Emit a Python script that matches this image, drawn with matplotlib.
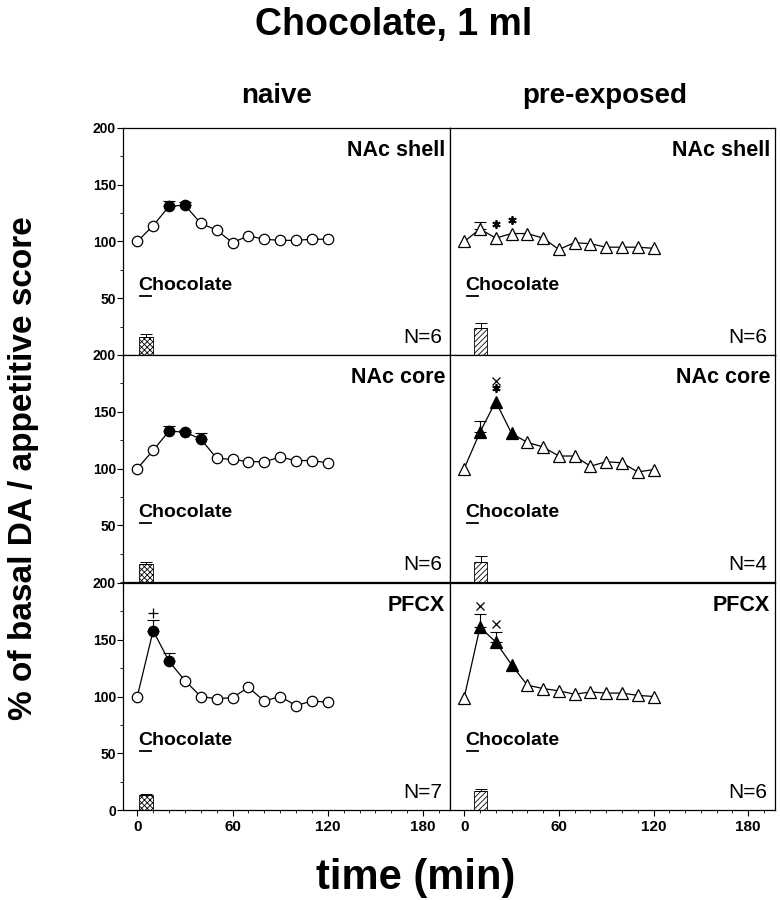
import numpy as np
import matplotlib
matplotlib.use('Agg')
import matplotlib.pyplot as plt
from matplotlib.ticker import MultipleLocator

plt.rcParams['font.family'] = ['Liberation Sans', 'DejaVu Sans']
plt.rcParams['hatch.linewidth'] = 0.6

# sampling times (min)
time_min = [0, 10, 20, 30, 40, 50, 60, 70, 80, 90, 100, 110, 120]

# naive group, % of basal DA
naive_shell = [100, 114, 131, 132, 116, 110, 99, 105, 102, 101, 101, 102, 102]
naive_shell_err = [0, 0, 5, 3, 0, 0, 0, 0, 0, 0, 0, 0, 0]
naive_shell_filled = [0, 0, 1, 1, 0, 0, 0, 0, 0, 0, 0, 0, 0]

naive_core = [100, 116, 133, 132, 126, 109, 108, 106, 106, 110, 107, 107, 105]
naive_core_err = [0, 0, 4.5, 2, 5, 0, 0, 0, 0, 0, 0, 0, 0]
naive_core_filled = [0, 0, 1, 1, 1, 0, 0, 0, 0, 0, 0, 0, 0]

naive_pfcx = [100, 158, 131, 114, 100, 98, 99, 108, 96, 100, 92, 96, 95]
naive_pfcx_err = [0, 9, 7.5, 0, 0, 0, 0, 0, 0, 0, 0, 0, 0]
naive_pfcx_filled = [0, 1, 1, 0, 0, 0, 0, 0, 0, 0, 0, 0, 0]

# pre-exposed group, % of basal DA
pre_shell = [100, 111, 103, 107, 107, 103, 93, 99, 98, 95, 95, 95, 94]
pre_shell_err = [0, 6, 0, 0, 0, 0, 0, 0, 0, 0, 0, 0, 0]
pre_shell_filled = [0, 0, 0, 0, 0, 0, 0, 0, 0, 0, 0, 0, 0]

pre_core = [100, 132, 159, 131, 123, 119, 111, 111, 102, 106, 105, 97, 99]
pre_core_err = [0, 10, 0, 0, 0, 0, 0, 0, 0, 0, 0, 0, 0]
pre_core_filled = [0, 1, 1, 1, 0, 0, 0, 0, 0, 0, 0, 0, 0]

pre_pfcx = [99, 161, 148, 128, 110, 107, 105, 102, 104, 103, 103, 101, 100]
pre_pfcx_err = [0, 12, 9, 0, 0, 0, 0, 0, 0, 0, 0, 0, 0]
pre_pfcx_filled = [0, 1, 1, 1, 0, 0, 0, 0, 0, 0, 0, 0, 0]

# appetitive score (bar) and its error
naive_score = [16, 16, 13]
naive_score_err = [2.5, 1.5, 1]
pre_score = [23.5, 18, 17]
pre_score_err = [4.5, 4.5, 1.5]

regions = ['NAc shell', 'NAc core', 'PFCX']
naive_n = ['N=6', 'N=6', 'N=7']
pre_n = ['N=6', 'N=4', 'N=6']

# significance symbols: (time, symbols stacked from bottom up)
naive_sig = [[], [], [(10, ['+'])]]
pre_sig = [[(20, ['*']), (30, ['*'])], [(20, ['*', 'x'])], [(10, ['x']), (20, ['x'])]]

choc_start, choc_end = 1.5, 8.5   # chocolate delivery marker

naive_data = [(naive_shell, naive_shell_err, naive_shell_filled),
              (naive_core, naive_core_err, naive_core_filled),
              (naive_pfcx, naive_pfcx_err, naive_pfcx_filled)]
pre_data = [(pre_shell, pre_shell_err, pre_shell_filled),
            (pre_core, pre_core_err, pre_core_filled),
            (pre_pfcx, pre_pfcx_err, pre_pfcx_filled)]

# marker styles for the significance symbols
sig_style = {'*': dict(marker=(6, 2, 0), ms=6, mew=1.3),
             'x': dict(marker='x', ms=5.5, mew=0.9),
             '+': dict(marker='+', ms=7, mew=0.9)}

W, H = 780, 900
fig = plt.figure(figsize=(W / 100, H / 100), dpi=100)

col_x = [123 / W, 450 / W]
col_w = [327 / W, 325 / W]
row_top = [128, 355, 583]
row_h = 227


def draw_panel(ax, vals, errs, filled, marker, score, score_err, bar_x, hatch,
               region, n_lbl, sigs):
    t = np.array(time_min)
    v = np.array(vals, dtype=float)
    e = np.array(errs, dtype=float)
    f = np.array(filled, dtype=bool)
    ax.plot(t, v, color='black', lw=0.9, zorder=2)
    m = e > 0
    ax.errorbar(t[m], v[m], yerr=[np.zeros(m.sum()), e[m]], fmt='none',
                ecolor='black', elinewidth=0.8, capsize=4, capthick=0.8, zorder=3)
    ms = 7.5 if marker == 'o' else 8
    ax.plot(t[~f], v[~f], marker, ls='none', mfc='white', mec='black',
            ms=ms, mew=0.9, zorder=4)
    ax.plot(t[f], v[f], marker, ls='none', mfc='black', mec='black',
            ms=ms, mew=0.9, zorder=4)
    # appetitive score bar
    ax.bar([bar_x], [score], width=8.5, color='white', edgecolor='black',
           hatch=hatch, lw=0.6, yerr=[[0], [score_err]], capsize=4,
           error_kw=dict(elinewidth=0.7, capthick=0.7), zorder=2)
    # significance symbols above the point (or above its error bar)
    for ts, syms in sigs:
        i = time_min.index(ts)
        y = v[i] + e[i] + 7 if e[i] > 0 else v[i] + 12
        for s in syms:
            ax.plot([ts], [y], ls='none', color='black', **sig_style[s])
            y += 6.5
    ax.text(0.985, 175, region, transform=ax.get_yaxis_transform(),
            ha='right', va='baseline', fontsize=15.5, fontweight='bold')
    ax.text(0.975, 10.5, n_lbl, transform=ax.get_yaxis_transform(),
            ha='right', va='baseline', fontsize=15)
    ax.text(0.5, 57.5, 'Chocolate', ha='left', va='baseline', fontsize=14,
            fontweight='bold')
    ax.plot([choc_start, choc_end], [52, 52], color='black', lw=1.3)


for r in range(3):
    for c in range(2):
        ax = fig.add_axes([col_x[c], 1 - (row_top[r] + row_h) / H, col_w[c], row_h / H])
        ax.set_xlim(-9, 197)
        ax.set_ylim(0, 200)
        for sp in ax.spines.values():
            sp.set_linewidth(0.9)
        if c == 0:
            vals, errs, filled = naive_data[r]
            draw_panel(ax, vals, errs, filled, 'o', naive_score[r], naive_score_err[r],
                       5.5, 'xxxxxx', regions[r], naive_n[r], naive_sig[r])
            yt = [0, 50, 100, 150, 200] if r == 2 else [50, 100, 150, 200]
            ax.set_yticks(yt, labels=[str(y) for y in yt], fontweight='bold', fontsize=10)
            ax.yaxis.set_minor_locator(MultipleLocator(25))
            ax.tick_params(axis='y', which='major', direction='out', length=4, width=0.8, pad=1)
            ax.tick_params(axis='y', which='minor', direction='out', length=2, width=0.6)
        else:
            vals, errs, filled = pre_data[r]
            draw_panel(ax, vals, errs, filled, '^', pre_score[r], pre_score_err[r],
                       10.5, '//////', regions[r], pre_n[r], pre_sig[r])
            ax.tick_params(axis='y', which='both', left=False, labelleft=False)
        if r == 2:
            xt = [0, 60, 120, 180]
            ax.set_xticks(xt, labels=[str(x) for x in xt], fontweight='bold', fontsize=11)
            ax.xaxis.set_minor_locator(MultipleLocator(10))
            ax.tick_params(axis='x', which='major', direction='out', length=4, width=0.8, pad=3)
            ax.tick_params(axis='x', which='minor', direction='out', length=2, width=0.6)
        else:
            ax.tick_params(axis='x', which='both', bottom=False, labelbottom=False)

fig.text(394 / W, 1 - 25 / H, 'Chocolate, 1 ml', ha='center', va='center',
         fontsize=27, fontweight='bold')
fig.text(277 / W, 1 - 96 / H, 'naive', ha='center', va='center',
         fontsize=20, fontweight='bold')
fig.text(605 / W, 1 - 96 / H, 'pre-exposed', ha='center', va='center',
         fontsize=20, fontweight='bold')
fig.text(24 / W, 1 - 468 / H, '% of basal DA / appetitive score', rotation=90,
         ha='center', va='center', fontsize=24, fontweight='bold')
fig.text(416 / W, 1 - 878 / H, 'time (min)', ha='center', va='center',
         fontsize=30, fontweight='bold')

fig.savefig('out.png', dpi=100)
